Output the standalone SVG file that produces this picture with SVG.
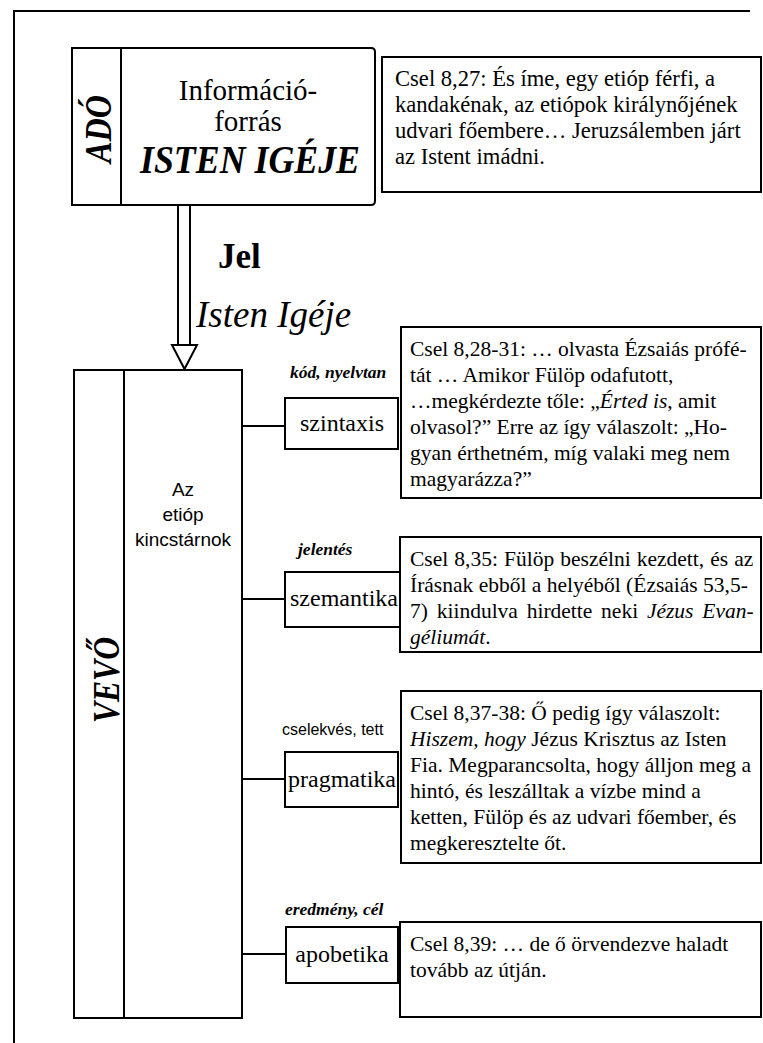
<svg xmlns="http://www.w3.org/2000/svg" width="763" height="1043" viewBox="0 0 763 1043">
  <style>
    .frame { fill: none; stroke: #000; stroke-width: 2; }
    .box { fill: #fff; stroke: #000; stroke-width: 2; }
    .line { fill: none; stroke: #000; stroke-width: 2; }
    .serif { font-family: "Liberation Serif", "Times New Roman", serif; fill: #000; }
    .sans { font-family: "Liberation Sans", Arial, sans-serif; fill: #000; }
    .cap { font-family: "Liberation Serif", "Times New Roman", serif; font-size: 21.5px; fill: #000; }
    .cap.lg { font-size: 22.6px; }
    .it { font-style: italic; }
    .tag { font-family: "Liberation Serif", "Times New Roman", serif; font-size: 17.5px; font-style: italic; font-weight: bold; fill: #000; }
    .term { font-family: "Liberation Serif", "Times New Roman", serif; font-size: 24px; fill: #000; text-anchor: middle; }
  </style>

  <!-- page frame: top rule and left rule -->
  <path class="frame" d="M14 1043 V11 H750"/>

  <!-- signal arrow from sender to receiver, and the branch lines to the four levels -->
  <g id="connectors">
    <path class="line" d="M178 205 V345 M190 205 V345"/>
    <path class="box" d="M172 345 H197 L184.5 369 Z"/>
    <path class="line" d="M242 426 H285"/>
    <path class="line" d="M242 599 H285"/>
    <path class="line" d="M242 779 H285"/>
    <path class="line" d="M242 954 H286"/>
  </g>

  <g id="signal-label">
    <text class="serif" x="218" y="268" font-size="35" font-weight="bold">Jel</text>
    <text class="serif it" x="196" y="327" font-size="37">Isten Igéje</text>
  </g>

  <!-- sender -->
  <g id="sender">
    <path class="box" d="M72 48 H371 Q375 48 375 52 V201 Q375 205 371 205 H72 Z"/>
    <path class="line" d="M121 48 V205"/>
    <text class="serif" transform="translate(111 129) rotate(-90)" text-anchor="middle" font-size="38" font-weight="bold" font-style="italic" textLength="68" lengthAdjust="spacingAndGlyphs">ADÓ</text>
    <text class="serif" x="248" y="100" text-anchor="middle" font-size="29">Információ-</text>
    <text class="serif" x="248" y="131" text-anchor="middle" font-size="29">forrás</text>
    <text class="serif" x="140" y="173" font-size="39" font-weight="bold" font-style="italic" textLength="220" lengthAdjust="spacingAndGlyphs">ISTEN IGÉJE</text>
  </g>

  <g id="note-source">
    <rect class="box" x="382" y="57" width="379" height="135"/>
    <text class="cap lg" x="395" y="86">Csel 8,27: És íme, egy etióp férfi, a</text>
    <text class="cap lg" x="395" y="112">kandakénak, az etiópok királynőjének</text>
    <text class="cap lg" x="395" y="138">udvari főembere… Jeruzsálemben járt</text>
    <text class="cap lg" x="395" y="164">az Istent imádni.</text>
  </g>

  <!-- receiver -->
  <g id="receiver">
    <rect class="box" x="74" y="370" width="168" height="648"/>
    <path class="line" d="M124 370 V1018"/>
    <text class="serif" transform="translate(119 680) rotate(-90)" text-anchor="middle" font-size="37" font-weight="bold" font-style="italic" textLength="86" lengthAdjust="spacingAndGlyphs">VEVŐ</text>
    <text class="sans" x="183" y="496" text-anchor="middle" font-size="19">Az</text>
    <text class="sans" x="183" y="521" text-anchor="middle" font-size="19">etióp</text>
    <text class="sans" x="183" y="546" text-anchor="middle" font-size="19">kincstárnok</text>
  </g>

  <!-- syntax level -->
  <g id="syntax">
    <text class="tag" x="290" y="378">kód, nyelvtan</text>
    <rect class="box" x="285" y="398" width="113" height="51"/>
    <text class="term" x="342" y="431">szintaxis</text>
  </g>
  <g id="note-syntax">
    <rect class="box" x="401" y="327" width="360" height="171"/>
    <text class="cap" x="410" y="356">Csel 8,28-31: … olvasta Ézsaiás prófé-</text>
    <text class="cap" x="410" y="382">tát … Amikor Fülöp odafutott,</text>
    <text class="cap" x="410" y="408">…megkérdezte tőle: „<tspan class="it">Érted is</tspan>, amit</text>
    <text class="cap" x="410" y="434">olvasol?” Erre az így válaszolt: „Ho-</text>
    <text class="cap" x="410" y="460">gyan érthetném, míg valaki meg nem</text>
    <text class="cap" x="410" y="486">magyarázza?”</text>
  </g>

  <!-- semantics level -->
  <g id="semantics">
    <text class="tag" x="298" y="555">jelentés</text>
    <rect class="box" x="285" y="572" width="115" height="55"/>
    <text class="term" x="344" y="606">szemantika</text>
  </g>
  <g id="note-semantics">
    <rect class="box" x="400" y="537" width="361" height="115"/>
    <text class="cap" x="410" y="566" word-spacing="0.7">Csel 8,35: Fülöp beszélni kezdett, és az</text>
    <text class="cap" x="410" y="592">Írásnak ebből a helyéből (Ézsaiás 53,5-</text>
    <text class="cap" x="410" y="618" word-spacing="3.4">7) kiindulva hirdette neki <tspan class="it">Jézus Evan-</tspan></text>
    <text class="cap" x="410" y="644"><tspan class="it">géliumát</tspan>.</text>
  </g>

  <!-- pragmatics level -->
  <g id="pragmatics">
    <text class="sans" x="282" y="735" font-size="16">cselekvés, tett</text>
    <rect class="box" x="285" y="752" width="113" height="55"/>
    <text class="term" x="342" y="787">pragmatika</text>
  </g>
  <g id="note-pragmatics">
    <rect class="box" x="401" y="691" width="360" height="172"/>
    <text class="cap" x="410" y="720">Csel 8,37-38: Ő pedig így válaszolt:</text>
    <text class="cap" x="410" y="746"><tspan class="it">Hiszem, hogy</tspan> Jézus Krisztus az Isten</text>
    <text class="cap" x="410" y="772">Fia. Megparancsolta, hogy álljon meg a</text>
    <text class="cap" x="410" y="798">hintó, és leszálltak a vízbe mind a</text>
    <text class="cap" x="410" y="824">ketten, Fülöp és az udvari főember, és</text>
    <text class="cap" x="410" y="850">megkeresztelte őt.</text>
  </g>

  <!-- apobetics level -->
  <g id="apobetics">
    <text class="tag" x="285" y="915">eredmény, cél</text>
    <rect class="box" x="286" y="927" width="112" height="56"/>
    <text class="term" x="342" y="962">apobetika</text>
  </g>
  <g id="note-apobetics">
    <rect class="box" x="400" y="922" width="361" height="95"/>
    <text class="cap" x="410" y="951">Csel 8,39: … de ő örvendezve haladt</text>
    <text class="cap" x="410" y="977">tovább az útján.</text>
  </g>
</svg>
